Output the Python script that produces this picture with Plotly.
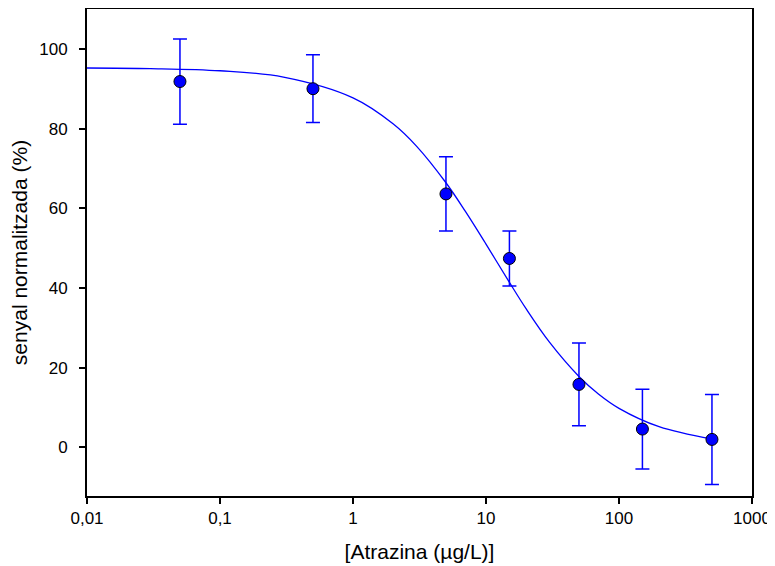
import plotly.graph_objects as go

# measured points
conc = [0.05, 0.5, 5, 15, 50, 150, 500]
signal = [91.8, 90.0, 63.6, 47.4, 15.8, 4.6, 2.0]
err = [10.7, 8.5, 9.3, 6.9, 10.4, 10.0, 11.3]

# fitted curve
curve_x = [0.01, 0.03, 0.1, 0.3, 1, 2, 3, 5, 7, 10, 15, 20, 30, 50, 70, 100, 200, 500]
curve_y = [95.2, 95.05, 94.5, 92.9, 87.7, 81.2, 75.6, 66.4, 59.2, 51.0, 41.4, 34.8, 26.4, 17.8, 13.4, 9.8, 5.2, 2.1]

x_tickvals = [0.01, 0.1, 1, 10, 100, 1000]
x_ticktext = ["0,01", "0,1", "1", "10", "100", "1000"]
y_tickvals = [0, 20, 40, 60, 80, 100]

fig = go.Figure()
fig.add_trace(go.Scatter(
    x=curve_x, y=curve_y, mode="lines", line=dict(color="#0000ff", width=1.3, shape="spline"),
    hoverinfo="skip", showlegend=False))
fig.add_trace(go.Scatter(
    x=conc, y=signal, mode="markers",
    marker=dict(color="#0000ff", size=12, line=dict(color="black", width=1)),
    error_y=dict(type="data", array=err, color="#0000ff", thickness=1.5, width=7),
    showlegend=False))

axis_common = dict(showgrid=False, zeroline=False, showline=True, linecolor="black", linewidth=1.8,
                   mirror=True, ticks="outside", ticklen=6, tickwidth=1.5, tickcolor="black",
                   automargin=False,
                   tickfont=dict(family="Liberation Sans, Arial", size=17, color="black"))

# page body has an 8px margin, so the figure is sized to fill the rest of the window
fig.update_layout(
    width=767, height=558,
    margin=dict(l=79, r=23, t=1, b=70),
    plot_bgcolor="white", paper_bgcolor="white",
    font=dict(family="Liberation Sans, Arial", color="black"),
    xaxis=dict(type="log", range=[-2, 3], tickvals=x_tickvals, ticktext=x_ticktext,
               title=dict(text="[Atrazina (\u00b5g/L)]", font=dict(size=21), standoff=17),
               **axis_common),
    yaxis=dict(range=[-12.2, 110], tickvals=y_tickvals, ticklabelstandoff=8,
               title=dict(text="senyal normalitzada (%)", font=dict(size=21), standoff=8),
               **axis_common),
)
fig.write_html("out.html")
